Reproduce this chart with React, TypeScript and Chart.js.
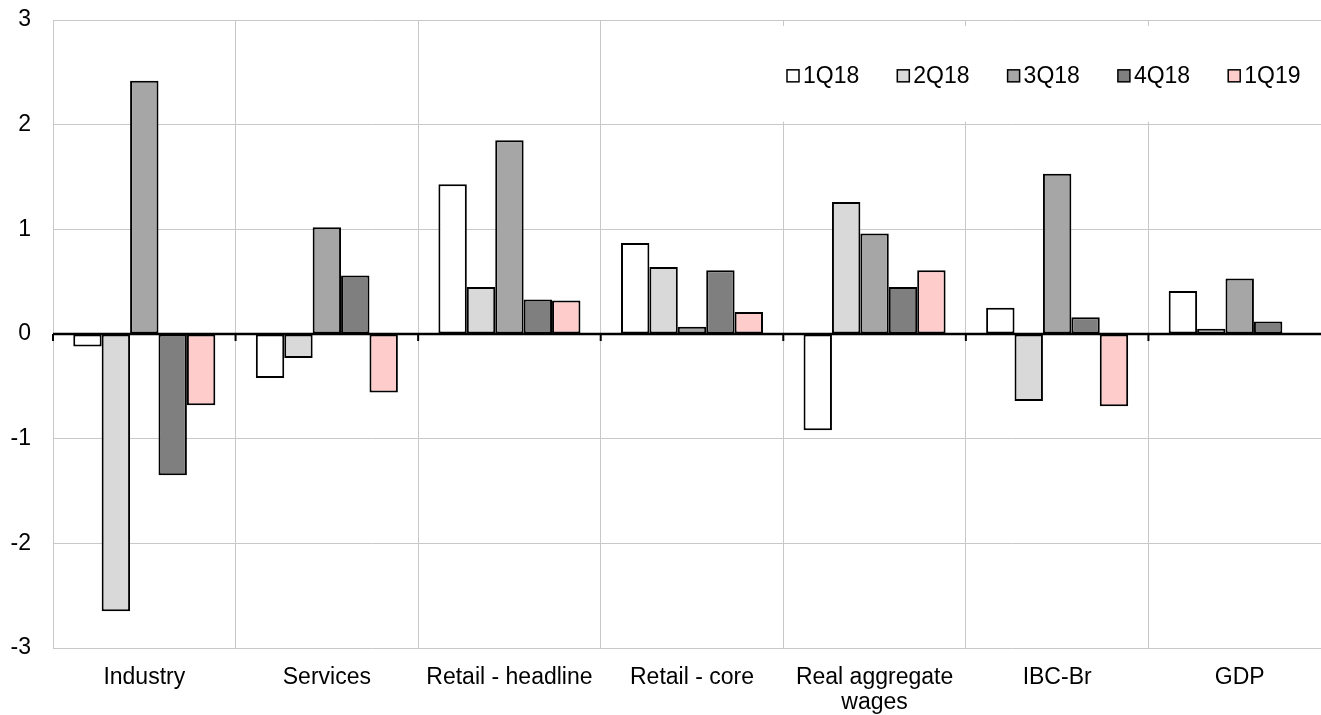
import { useEffect, useRef } from "react";
import { Chart, registerables } from "chart.js";

Chart.register(...registerables);

const categories: (string | string[])[] = [
  "Industry",
  "Services",
  "Retail - headline",
  "Retail - core",
  ["Real aggregate", "wages"],
  "IBC-Br",
  "GDP",
];

const seriesLabels = ["1Q18", "2Q18", "3Q18", "4Q18", "1Q19"];
const seriesColors = ["#ffffff", "#d9d9d9", "#a6a6a6", "#7f7f7f", "#ffcccc"];

const q1_18 = [-0.12, -0.42, 1.43, 0.87, -0.92, 0.25, 0.41];
const q2_18 = [-2.65, -0.23, 0.45, 0.64, 1.26, -0.64, 0.05];
const q3_18 = [2.42, 1.02, 1.85, 0.07, 0.96, 1.53, 0.53];
const q4_18 = [-1.35, 0.56, 0.33, 0.61, 0.45, 0.16, 0.12];
const q1_19 = [-0.68, -0.56, 0.32, 0.21, 0.61, -0.69, null];

const yTicks = [-3, -2, -1, 0, 1, 2, 3];

const FONT = "'Liberation Sans', Arial, sans-serif";

export default function App() {
  const ref = useRef<HTMLCanvasElement>(null);

  useEffect(() => {
    const canvas = ref.current!;
    const allSeries = [q1_18, q2_18, q3_18, q4_18, q1_19];

    const zeroLine = {
      id: "zeroLine",
      afterDatasetsDraw(chart: any) {
        const { ctx: c, chartArea: a, scales } = chart;
        const xs = scales.x;
        const ys = scales.y;
        const y0 = ys.getPixelForValue(0);
        c.save();
        c.strokeStyle = "#000";
        c.lineWidth = 2.5;
        c.beginPath();
        c.moveTo(a.left, y0);
        c.lineTo(a.right, y0);
        c.stroke();
        c.lineWidth = 2;
        for (let i = 0; i <= categories.length; i++) {
          const px = xs.getPixelForValue(i - 0.5);
          c.beginPath();
          c.moveTo(px, y0);
          c.lineTo(px, y0 + 7);
          c.stroke();
        }
        c.restore();
      },
    };

    const legendBox = {
      id: "legendBox",
      afterDraw(chart: any) {
        const c = chart.ctx;
        const a = chart.chartArea;
        const ys = chart.scales.y;
        const top = ys.getPixelForValue(3) + 6;
        const bottom = ys.getPixelForValue(2) - 3;
        c.save();
        c.fillStyle = "#ffffff";
        c.fillRect(770, top, a.right - 770, bottom - top);
        c.font = `23px ${FONT}`;
        c.textBaseline = "middle";
        c.textAlign = "left";
        const cy = (top + bottom) / 2 + 2;
        chart.data.datasets.forEach((ds: any, i: number) => {
          const bx = 787 + i * 110.3;
          c.fillStyle = ds.backgroundColor;
          c.fillRect(bx, cy - 6, 12, 12);
          c.strokeStyle = "#000";
          c.lineWidth = 1.5;
          c.strokeRect(bx, cy - 6, 12, 12);
          c.fillStyle = "#000";
          c.fillText(ds.label, bx + 16, cy + 1);
        });
        c.restore();
      },
    };

    const chart = new Chart(canvas, {
      type: "bar",
      data: {
        labels: categories as any,
        datasets: allSeries.map((d, i) => ({
          label: seriesLabels[i],
          data: d as any,
          backgroundColor: seriesColors[i],
          borderColor: "#000000",
          borderWidth: 2,
          borderSkipped: false,
          categoryPercentage: 0.778,
          barPercentage: 1.0,
        })),
      },
      options: {
        animation: false,
        responsive: true,
        maintainAspectRatio: false,
        layout: { padding: { top: 20, left: 0, right: 0, bottom: 0 } },
        plugins: {
          legend: { display: false },
          tooltip: { enabled: false },
        },
        scales: {
          x: {
            grid: {
              offset: true,
              color: "#c8c8c8",
              lineWidth: 1,
              drawTicks: false,
            },
            border: { display: false },
            ticks: {
              color: "#000",
              font: { family: FONT, size: 23, lineHeight: 1.08 },
              padding: 17,
              maxRotation: 0,
              autoSkip: false,
            },
            afterFit(scale: any) {
              scale.height = 67;
              scale.paddingLeft = 0;
              scale.paddingRight = 0;
            },
          },
          y: {
            min: -3,
            max: 3,
            afterBuildTicks(scale: any) {
              scale.ticks = yTicks.map((v) => ({ value: v }));
            },
            grid: {
              color: "#c8c8c8",
              lineWidth: 1,
              drawTicks: false,
            },
            border: { display: false },
            ticks: {
              color: "#000",
              font: { family: FONT, size: 23 },
              padding: 22,
            },
            afterFit(scale: any) {
              scale.width = 53;
              scale.paddingTop = 0;
              scale.paddingBottom = 0;
            },
          },
        },
      },
      plugins: [zeroLine, legendBox],
    });

    return () => chart.destroy();
  }, []);

  return (
    <div
      style={{
        position: "fixed",
        left: 0,
        top: 0,
        width: 1321,
        height: 715,
        overflow: "hidden",
        background: "#ffffff",
      }}
    >
      <div style={{ position: "relative", width: 1331, height: 715 }}>
        <canvas ref={ref} />
      </div>
    </div>
  );
}
